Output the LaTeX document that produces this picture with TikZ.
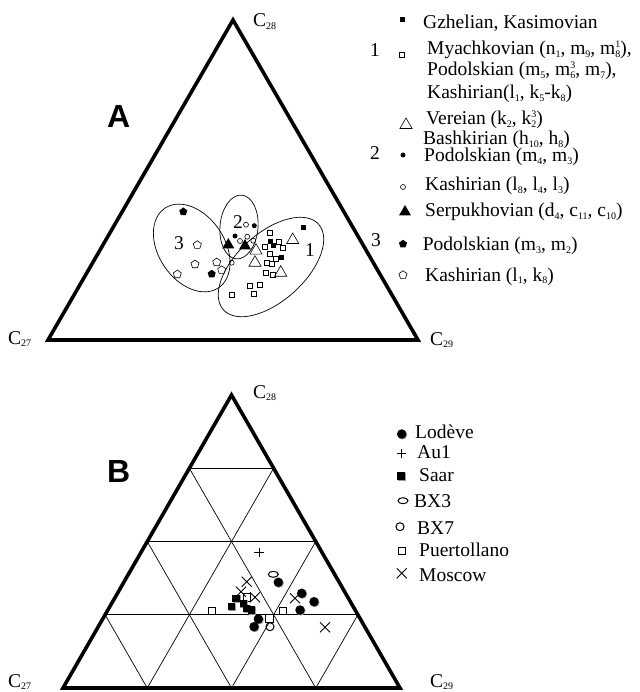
\documentclass[tikz,border=0pt]{standalone}
\usepackage{fontspec}
\setmainfont{Liberation Serif}
\setsansfont{Liberation Sans}
\usetikzlibrary{shapes.geometric, shapes.misc, shadows, calc, positioning}

\newcommand\lo[1]{\raisebox{-0.3ex}{\fontsize{10}{10}\selectfont#1}}
\newcommand\hi[1]{\raisebox{0.8ex}{\fontsize{10}{10}\selectfont#1}}
\newcommand\lohi[2]{\rlap{\lo{#1}}\hi{#2}}

\begin{document}
\begin{tikzpicture}
  [x=1pt,y=-1pt,every node/.style={font=\fontsize{19.5}{22}\selectfont,inner sep=0pt},
   lbl/.style={anchor=base west},
   mk/.style={inner sep=0pt,outer sep=0pt,line width=0.6pt},
   fsq/.style={mk,rectangle,fill,minimum size=5pt},
   osq/.style={mk,rectangle,draw,minimum size=5pt},
   fdot/.style={mk,circle,fill,minimum size=5pt},
   odot/.style={mk,circle,draw,minimum size=5pt},
   ftri/.style={mk,regular polygon,regular polygon sides=3,fill,minimum size=14pt},
   otri/.style={mk,regular polygon,regular polygon sides=3,draw,minimum size=14pt},
   fpent/.style={mk,regular polygon,regular polygon sides=5,fill,minimum size=8.5pt},
   opent/.style={mk,regular polygon,regular polygon sides=5,draw,minimum size=8.5pt},
   shd/.style={drop shadow={opacity=1,fill=black!40,shadow xshift=0.8pt,shadow yshift=-0.8pt}},
   lod/.style={mk,circle,fill,minimum size=9.5pt,shd},
   saar/.style={mk,rectangle,fill,minimum size=7.5pt,shd},
   puer/.style={mk,rectangle,draw,fill=white,minimum size=7.5pt,line width=0.8pt},
   bxthree/.style={mk,ellipse,draw,minimum width=10pt,minimum height=6pt,line width=1pt},
   bxseven/.style={mk,circle,draw,minimum size=8pt,line width=1pt},
   plusmk/.style={mk,cross out,draw,rotate=45,minimum size=6.5pt,line width=1pt},
   mosc/.style={mk,cross out,draw,minimum size=10pt,line width=0.9pt},
   outer/.style={line width=3.6pt},
   grid/.style={line width=0.7pt},
   ring/.style={line width=0.7pt}]
  \useasboundingbox (0,0) rectangle (639,692);

  % ---- A ----
  \coordinate (aL) at (48,340);
  \coordinate (aR) at (418,340);
  \coordinate (aT) at (233,20);
  \draw[outer] (aL) -- (aR) -- (aT) -- cycle;

  \node[lbl] (a28) at (253,26.7) {C\lo{28}};
  \node[lbl] (a27) at (8,344) {C\lo{27}};
  \node[lbl] (a29) at (430,345) {C\lo{29}};
  \node[lbl,font=\sffamily\bfseries\fontsize{32}{32}\selectfont] (labA) at (107,128) {A};

  \coordinate (e1) at (271,267);
  \coordinate (e2) at (239,227);
  \coordinate (e3) at (191.7,248);
  \draw[ring,rotate around={42:(e1)}] (e1) ellipse [x radius=64,y radius=34];
  \draw[ring,rotate around={-5:(e2)}] (e2) ellipse [x radius=19,y radius=32];
  \draw[ring,rotate around={-56:(e3)}] (e3) ellipse [x radius=48,y radius=33];
  \node[lbl] (g1) at (305,256) {1};
  \node[lbl] (g2) at (233,229) {2};
  \node[lbl] (g3) at (174,250) {3};

  \foreach \x/\y [count=\i] in {183.3/211.7,211.7/274}
    \node[fpent] (fp\i) at (\x,\y) {};
  \foreach \x/\y [count=\i] in {197.3/245,195/264.3,177.3/274.3,216.7/262.3,221.7/270}
    \node[opent] (op\i) at (\x,\y) {};
  \foreach \x/\y [count=\i] in {254.3/225.7,235/236}
    \node[fdot] (fd\i) at (\x,\y) {};
  \foreach \x/\y [count=\i] in {246/224.7,247.3/236.7,240/241,253.3/240.7,231.7/262.7}
    \node[odot] (od\i) at (\x,\y) {};
  \foreach \x/\y [count=\i] in {228.3/245,245/246}
    \node[ftri] (ft\i) at (\x,\y) {};
  \foreach \x/\y [count=\i] in {256/250.7,255/262.7,292.7/240,280.7/272.7}
    \node[otri] (ot\i) at (\x,\y) {};
  \foreach \x/\y [count=\i] in {303.3/227.3,270/241.7,273.3/246,281.7/257.7}
    \node[fsq] (fs\i) at (\x,\y) {};
  \foreach \x/\y [count=\i] in {269.3/232.7,265/246.7,278.3/242.3,282.7/248.3,270/254,
      275.7/258.3,266.7/262.7,271.7/263.3,266/272.3,272.3/275,249.3/285.7,259.3/284.3,
      254/294,231.7/295}
    \node[osq] (os\i) at (\x,\y) {};

  % legend A
  \node[fsq] (lg1) at (402,20) {};
  \node[lbl] (t1) at (423,28.5) {Gzhelian, Kasimovian};
  \node[lbl] (n1) at (370,57) {1};
  \node[osq] (lg2) at (402,55) {};
  \node[lbl] (t2) at (427,55) {Myachkovian (n\lo{1}, m\lo{9}, m\lohi{8}{1}),};
  \node[lbl] (t3) at (427,75.5) {Podolskian (m\lo{5}, m\lohi{6}{3}, m\lo{7}),};
  \node[lbl] (t4) at (427,99) {Kashirian(l\lo{1}, k\lo{5}-k\lo{8})};
  \node[otri] (lg3) at (406,125) {};
  \node[lbl] (t5) at (426,124.5) {Vereian (k\lo{2}, k\lohi{2}{3})};
  \node[lbl] (t6) at (423,145) {Bashkirian (h\lo{10}, h\lo{8})};
  \node[lbl] (n2) at (370,160) {2};
  \node[fdot] (lg4) at (403,155) {};
  \node[lbl] (t7) at (424,162) {Podolskian (m\lo{4}, m\lo{3})};
  \node[odot] (lg5) at (403,187) {};
  \node[lbl] (t8) at (425,191) {Kashirian (l\lo{8}, l\lo{4}, l\lo{3})};
  \node[ftri] (lg6) at (405,212) {};
  \node[lbl] (t9) at (425,217) {Serpukhovian (d\lo{4}, c\lo{11}, c\lo{10})};
  \node[lbl] (n3) at (371,247) {3};
  \node[fpent] (lg7) at (403,244) {};
  \node[lbl] (t10) at (422.7,251) {Podolskian (m\lo{3}, m\lo{2})};
  \node[opent] (lg8) at (403,275) {};
  \node[lbl] (t11) at (425,281) {Kashirian (l\lo{1}, k\lo{8})};

  % ---- B ----
  \coordinate (bL) at (63,688);
  \coordinate (bR) at (400,688);
  \coordinate (bT) at (231.5,395);
  \foreach \k in {1,2,3} {
    \draw[grid] ($(bL)!\k/4!(bT)$) -- ($(bR)!\k/4!(bT)$);
    \draw[grid] ($(bL)!\k/4!(bR)$) -- ($(bT)!\k/4!(bR)$);
    \draw[grid] ($(bL)!\k/4!(bR)$) -- ($(bL)!\k/4!(bT)$);
  }
  \draw[outer] (bL) -- (bR) -- (bT) -- cycle;

  \node[lbl] (b28) at (253,398.3) {C\lo{28}};
  \node[lbl] (b27) at (8,687) {C\lo{27}};
  \node[lbl] (b29) at (430,687) {C\lo{29}};
  \node[lbl,font=\sffamily\bfseries\fontsize{32}{32}\selectfont] (labB) at (107,482) {B};

  \foreach \x/\y [count=\i] in {211.7/610.7,246.7/597.3,282.7/610.7,269.3/618.3}
    \node[puer] (pu\i) at (\x,\y) {};
  \foreach \x/\y [count=\i] in {236/598.3,231.7/606.7,243.3/603.3,246.7/608.3,251.7/610}
    \node[saar] (sa\i) at (\x,\y) {};
  \foreach \x/\y [count=\i] in {278.3/582.3,301.7/593.3,314/601.7,300/610,258.3/619,254/626.7}
    \node[lod] (lo\i) at (\x,\y) {};
  \foreach \x/\y [count=\i] in {246.7/581.7,241/591.7,255/597.3,295/598.3,325/627.3}
    \node[mosc] (mo\i) at (\x,\y) {};
  \node[plusmk] (au) at (259,552.3) {};
  \node[bxthree] (bx3) at (273.3,574.3) {};
  \node[bxseven] (bx7) at (270,626.7) {};

  % legend B
  \node[lod] (lb1) at (401.7,434) {};
  \node[lbl] (u1) at (415,438.3) {Lodève};
  \node[plusmk] (lb2) at (401.7,453.3) {};
  \node[lbl] (u2) at (417,458.3) {Au1};
  \node[saar] (lb3) at (401,476) {};
  \node[lbl] (u3) at (419,481.7) {Saar};
  \node[bxthree] (lb4) at (403,500.7) {};
  \node[lbl] (u4) at (414,507.3) {BX3};
  \node[bxseven] (lb5) at (400,526.7) {};
  \node[lbl] (u5) at (417,534) {BX7};
  \node[puer] (lb6) at (401.7,550.7) {};
  \node[lbl] (u6) at (419,556.7) {Puertollano};
  \node[mosc] (lb7) at (401.7,573.3) {};
  \node[lbl] (u7) at (419,581.7) {Moscow};

\end{tikzpicture}
\end{document}
